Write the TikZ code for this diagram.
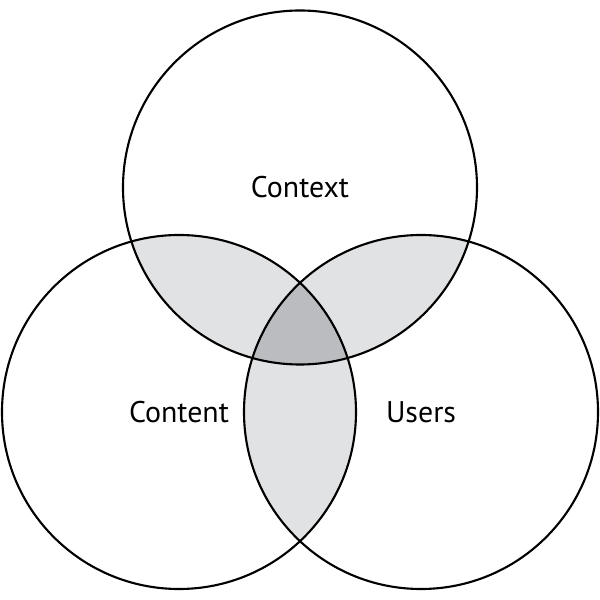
\documentclass[tikz,border=0pt]{standalone}
\usepackage{fontspec}
\setmainfont{PT Sans}
\definecolor{lensgray}{HTML}{E1E2E4}
\definecolor{coregray}{HTML}{BBBCBF}
\tikzset{
  ring/.style={line width=0.6pt},
  setlabel/.style={font=\fontsize{8.5}{10}\selectfont}
}
\begin{document}
\begin{tikzpicture}[scale=1]
	\useasboundingbox (0,0) rectangle (6,6);
	\coordinate (ctx) at (3,4.125);
	\coordinate (cnt) at (1.79,1.88);
	\coordinate (usr) at (4.21,1.88);
	\def\rad{1.77}

	% pairwise overlaps
	\begin{scope}
		\clip (ctx) circle (\rad);
		\fill[lensgray] (cnt) circle (\rad);
		\fill[lensgray] (usr) circle (\rad);
	\end{scope}
	\begin{scope}
		\clip (cnt) circle (\rad);
		\fill[lensgray] (usr) circle (\rad);
	\end{scope}
	% all three
	\begin{scope}
		\clip (ctx) circle (\rad);
		\clip (cnt) circle (\rad);
		\fill[coregray] (usr) circle (\rad);
	\end{scope}

	\draw[ring] (ctx) circle (\rad);
	\draw[ring] (cnt) circle (\rad);
	\draw[ring] (usr) circle (\rad);

	\node[setlabel] (lctx) at (ctx) {Context};
	\node[setlabel] (lcnt) at (cnt) {Content};
	\node[setlabel] (lusr) at (usr) {Users};

\end{tikzpicture}
\end{document}
